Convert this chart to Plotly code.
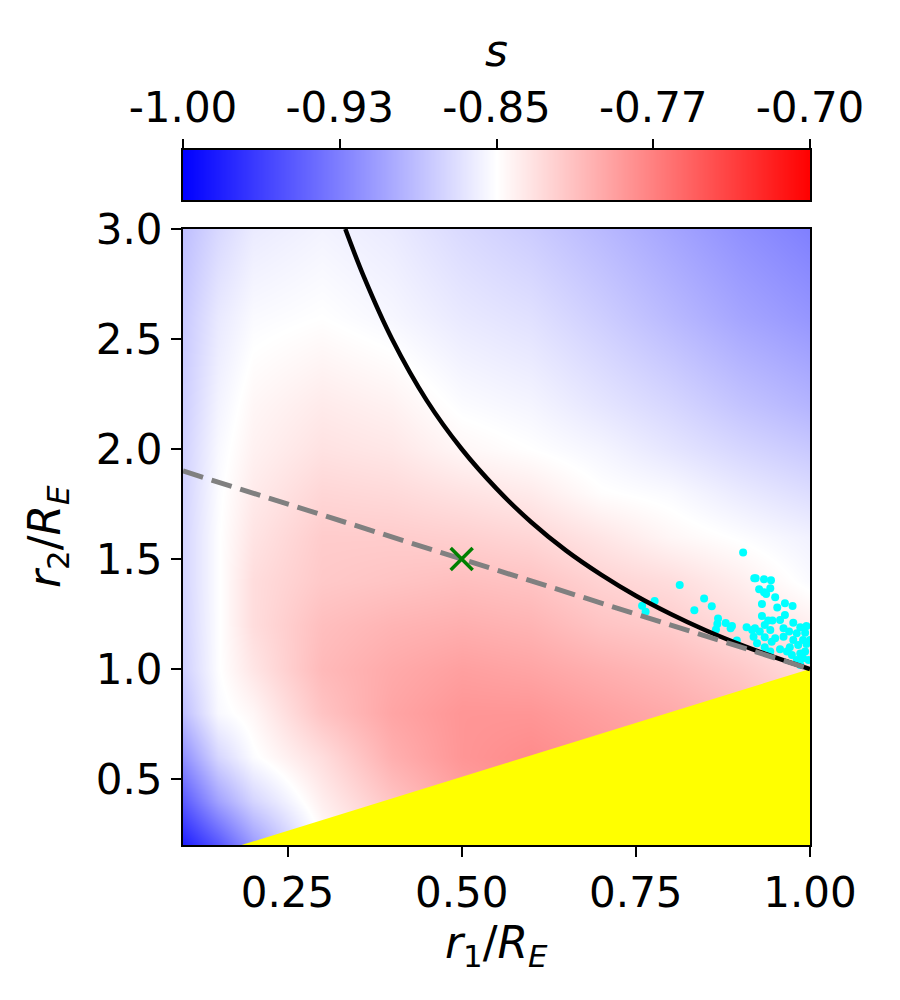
import plotly.graph_objects as go

# ---- data ----
r1_grid = [0.1, 0.15, 0.2, 0.3, 0.4, 0.5, 0.6, 0.7, 0.8, 0.9, 1.0]
r2_grid = [0.2, 0.4, 0.6, 0.8, 1.0, 1.2, 1.4, 1.6, 1.8, 2.0, 2.2, 2.6, 3.0]
s_grid = [
    [-0.982, -0.950, -0.910, -0.850, -0.825, -0.805, -0.790, -0.792, -0.800, -0.808, -0.818],  # 0.2
    [-0.947, -0.905, -0.875, -0.840, -0.815, -0.795, -0.785, -0.790, -0.797, -0.805, -0.815],  # 0.4
    [-0.915, -0.874, -0.852, -0.830, -0.803, -0.788, -0.782, -0.788, -0.795, -0.803, -0.815],  # 0.6
    [-0.888, -0.854, -0.845, -0.815, -0.797, -0.788, -0.788, -0.794, -0.800, -0.808, -0.820],  # 0.8
    [-0.878, -0.851, -0.835, -0.809, -0.800, -0.794, -0.797, -0.803, -0.809, -0.818, -0.830],  # 1.0
    [-0.876, -0.851, -0.830, -0.812, -0.806, -0.803, -0.806, -0.815, -0.820, -0.830, -0.840],  # 1.2
    [-0.875, -0.851, -0.830, -0.818, -0.815, -0.812, -0.815, -0.824, -0.830, -0.840, -0.853],  # 1.4
    [-0.875, -0.851, -0.834, -0.820, -0.820, -0.822, -0.826, -0.835, -0.845, -0.851, -0.858],  # 1.6
    [-0.876, -0.852, -0.838, -0.826, -0.828, -0.833, -0.838, -0.849, -0.853, -0.862, -0.870],  # 1.8
    [-0.877, -0.854, -0.842, -0.833, -0.836, -0.845, -0.850, -0.856, -0.865, -0.874, -0.882],  # 2.0
    [-0.879, -0.857, -0.845, -0.838, -0.842, -0.852, -0.856, -0.865, -0.874, -0.885, -0.894],  # 2.2
    [-0.882, -0.863, -0.853, -0.850, -0.855, -0.863, -0.868, -0.879, -0.891, -0.903, -0.912],  # 2.6
    [-0.888, -0.873, -0.862, -0.857, -0.862, -0.872, -0.880, -0.891, -0.903, -0.915, -0.925],  # 3.0
]

curve_r1 = [0.333, 0.36, 0.4, 0.45, 0.5, 0.55, 0.6, 0.65, 0.7, 0.75, 0.8, 0.85, 0.9, 0.95, 1.0]
curve_r2 = [3.0, 2.78, 2.5, 2.22, 2.0, 1.82, 1.667, 1.538, 1.429, 1.333, 1.25, 1.176, 1.111, 1.053, 1.0]

dash_r1 = [0.1, 1.0]
dash_r2 = [1.9, 1.0]

yellow_r1 = [0.184, 1.0, 1.0, 0.184]
yellow_r2 = [0.2, 1.0, 0.2, 0.2]

marker_r1 = [0.5]
marker_r2 = [1.5]

pts_r1 = [0.904, 0.813, 0.777, 0.759, 0.764, 0.848, 0.859, 0.834, 0.868, 0.867, 0.879, 0.888,
          0.886, 0.865, 0.909, 0.917, 0.895, 0.920,
          0.922, 0.934, 0.944, 0.927, 0.934, 0.943, 0.937, 0.950, 0.931, 0.964, 0.975, 0.953,
          0.931, 0.964, 0.940, 0.946, 0.957, 0.976, 0.935, 0.921, 0.962, 0.986, 0.995, 0.928,
          0.943, 0.970, 0.981, 0.993, 0.919, 0.935, 0.950, 0.962, 0.976, 0.990, 0.924, 0.945,
          0.983, 0.995, 0.935, 0.957, 0.971, 0.943, 0.974, 0.986, 0.993, 0.967, 0.990, 0.981,
          0.998, 0.986, 1.0]
pts_r2 = [1.529, 1.382, 1.309, 1.288, 1.260, 1.321, 1.285, 1.267, 1.230, 1.205, 1.209, 1.195,
          1.185, 1.180, 1.190, 1.177, 1.129, 1.412,
          1.412, 1.408, 1.403, 1.362, 1.349, 1.367, 1.341, 1.326, 1.295, 1.299, 1.286, 1.279,
          1.241, 1.245, 1.220, 1.220, 1.223, 1.210, 1.200, 1.185, 1.185, 1.190, 1.195, 1.170,
          1.177, 1.170, 1.162, 1.165, 1.147, 1.144, 1.140, 1.147, 1.132, 1.132, 1.117, 1.124,
          1.109, 1.114, 1.099, 1.090, 1.099, 1.079, 1.064, 1.071, 1.079, 1.079, 1.049, 1.041,
          1.041, 1.018, 1.132]

# colour bar range / ticks
cb_range = [-1.0, -0.7]
cb_tickvals = [-1.0, -0.925, -0.85, -0.775, -0.7]
cb_ticktext = ["-1.00", "-0.93", "-0.85", "-0.77", "-0.70"]
x_tickvals = [0.25, 0.5, 0.75, 1.0]
x_ticktext = ["0.25", "0.50", "0.75", "1.00"]
y_tickvals = [0.5, 1.0, 1.5, 2.0, 2.5, 3.0]
y_ticktext = ["0.5", "1.0", "1.5", "2.0", "2.5", "3.0"]

FONT = "DejaVu Sans"
FS = 42
BWR = [[0, "rgb(0,0,255)"], [0.5, "rgb(255,255,255)"], [1, "rgb(255,0,0)"]]

# layout geometry (pixels)
W, H = 900, 1000
L, R, T, B = 183, 90, 150, 155
PH = H - T - B  # 695
main_top = (845 - 229) / PH
cb_bottom = (845 - 200) / PH

fig = go.Figure()

fig.add_trace(go.Heatmap(
    x=r1_grid, y=r2_grid, z=s_grid,
    zmin=cb_range[0], zmax=cb_range[1], zsmooth="best",
    colorscale=BWR, showscale=False, hoverinfo="skip",
    xaxis="x", yaxis="y",
))

fig.add_trace(go.Scatter(
    x=yellow_r1, y=yellow_r2, mode="lines", fill="toself",
    fillcolor="rgb(255,255,0)", line=dict(width=0, color="rgb(255,255,0)"),
    showlegend=False, hoverinfo="skip",
))

fig.add_trace(go.Scatter(
    x=pts_r1, y=pts_r2, mode="markers",
    marker=dict(color="rgb(0,255,255)", size=8, line=dict(width=0)),
    showlegend=False,
))

fig.add_trace(go.Scatter(
    x=curve_r1, y=curve_r2, mode="lines", line=dict(color="black", width=4.5, shape="spline"),
    showlegend=False,
))

fig.add_trace(go.Scatter(
    x=dash_r1, y=dash_r2, mode="lines",
    line=dict(color="rgb(128,128,128)", width=5, dash="21px,9px"),
    showlegend=False,
))

fig.add_trace(go.Scatter(
    x=marker_r1, y=marker_r2, mode="markers",
    marker=dict(symbol="x-thin", size=22, color="green", line=dict(width=3.5, color="green")),
    showlegend=False,
))

# colour bar drawn as a gradient strip on its own axes
fig.add_trace(go.Heatmap(
    x=cb_range, y=[0, 1], z=[cb_range, cb_range],
    zmin=cb_range[0], zmax=cb_range[1], zsmooth="best",
    colorscale=BWR, showscale=False, hoverinfo="skip",
    xaxis="x2", yaxis="y2",
))

axis_common = dict(
    showline=True, mirror=True, linewidth=2, linecolor="black",
    ticks="outside", ticklen=10, tickwidth=2, tickcolor="black",
    showgrid=False, zeroline=False,
    tickfont=dict(family=FONT, size=FS, color="black"),
)

fig.update_layout(
    width=W, height=H,
    margin=dict(l=L, r=R, t=T, b=B, autoexpand=False),
    paper_bgcolor="white", plot_bgcolor="white",
    showlegend=False,
    xaxis=dict(domain=[0, 1], range=[0.1, 1.0], tickvals=x_tickvals, ticktext=x_ticktext,
               anchor="y", ticklabelstandoff=0, **axis_common),
    yaxis=dict(domain=[0, main_top], range=[0.2, 3.0], tickvals=y_tickvals, ticktext=y_ticktext,
               anchor="x", **axis_common),
    xaxis2=dict(domain=[0, 1], range=cb_range, tickvals=cb_tickvals, ticktext=cb_ticktext,
                anchor="y2", side="top", showline=True, mirror=True, linewidth=2, linecolor="black",
                ticks="outside", ticklen=9, tickwidth=2, tickcolor="black",
                showgrid=False, zeroline=False, ticklabelstandoff=0,
                tickfont=dict(family=FONT, size=FS, color="black")),
    yaxis2=dict(domain=[cb_bottom, 1], range=[0, 1], anchor="x2", showticklabels=False,
                ticks="", showline=True, mirror=True, linewidth=2, linecolor="black",
                showgrid=False, zeroline=False),
    annotations=[
        dict(text="<i>s</i>", xref="paper", yref="paper", x=0.5, y=(845 - 50) / PH,
             xanchor="center", yanchor="middle", showarrow=False,
             font=dict(family=FONT, size=FS + 2, color="black")),
        dict(text="<i>r</i><sub>1</sub>/<i>R</i><sub><i>E</i></sub>", xref="paper", yref="paper",
             x=(496 - L) / 627, y=(845 - 946) / PH, xanchor="center", yanchor="middle",
             showarrow=False, font=dict(family=FONT, size=FS + 2, color="black")),
        dict(text="<i>r</i><sub>2</sub>/<i>R</i><sub><i>E</i></sub>", xref="paper", yref="paper",
             x=(47 - L) / 627, y=(845 - 537) / PH, xanchor="center", yanchor="middle",
             textangle=-90, showarrow=False, font=dict(family=FONT, size=FS + 2, color="black")),
    ],
)

fig.write_html("out.html")
